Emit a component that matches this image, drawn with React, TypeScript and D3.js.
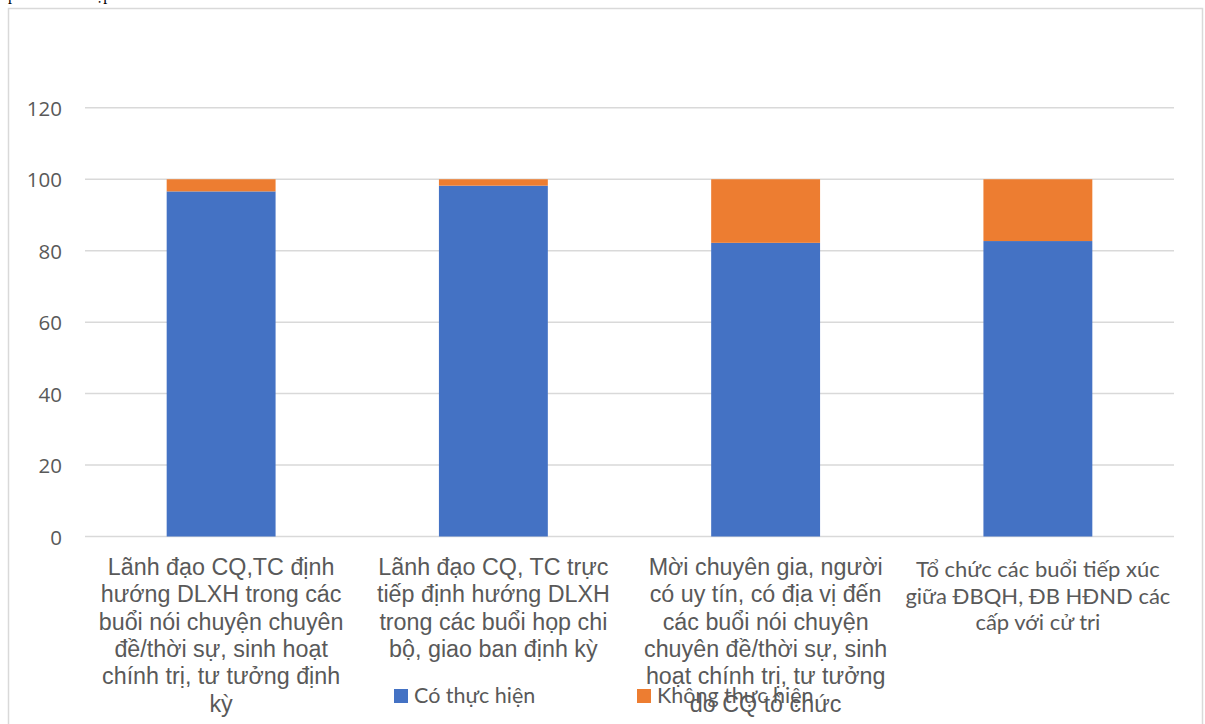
import * as d3 from "d3";

const WIDTH = 1205;
const HEIGHT = 724;

// plot area inside the chart frame
const PLOT = { left: 85, right: 1174, top: 107.8, bottom: 536.5 };

const categories = [
  "Lãnh đạo CQ,TC định hướng DLXH",
  "Lãnh đạo CQ, TC trực tiếp định hướng DLXH",
  "Mời chuyên gia, người có uy tín",
  "Tổ chức các buổi tiếp xúc cử tri",
];

// wrapped label lines, as shown under each bar
const categoryLines = [
  ["Lãnh đạo CQ,TC định", "hướng DLXH trong các", "buổi nói chuyện chuyên", "đề/thời sự, sinh hoạt", "chính trị, tư tưởng định", "kỳ"],
  ["Lãnh đạo CQ, TC trực", "tiếp định hướng DLXH", "trong các buổi họp chi", "bộ, giao ban định kỳ"],
  ["Mời chuyên gia, người", "có uy tín, có địa vị đến", "các buổi nói chuyện", "chuyên đề/thời sự, sinh", "hoạt chính trị, tư tưởng", "do CQ tổ chức"],
  ["Tổ chức các buổi tiếp xúc", "giữa ĐBQH, ĐB HĐND các", "cấp với cử tri"],
];

const coThucHien = [96.6, 98.2, 82.2, 82.7];
const khongThucHien = [3.4, 1.8, 17.8, 17.3];

const seriesNames = ["Có thực hiện", "Không thực hiện"];
const seriesColors = ["#4472C4", "#ED7D31"];

const yTicks = [0, 20, 40, 60, 80, 100, 120];

const TEXT = "#595959";
const GRID = "#d9d9d9";

export default function App() {
  const x = d3
    .scaleBand()
    .domain(categories)
    .range([PLOT.left, PLOT.right])
    .paddingInner(0.6)
    .paddingOuter(0.3);

  const y = d3.scaleLinear().domain([0, 120]).range([PLOT.bottom, PLOT.top]);

  const stacked = d3
    .stack<number>()
    .keys(["0", "1"])
    .value((i, key) => (key === "0" ? coThucHien[i] : khongThucHien[i]))(
    d3.range(categories.length)
  );

  return (
    <svg
      width={WIDTH}
      height={HEIGHT}
      style={{ position: "absolute", left: 0, top: 0 }}
    >
      {/* bit of document text cut off above the chart */}
      <text x={8} y={0} fontFamily="'Liberation Serif', 'Times New Roman', serif" fontSize={16} fill="#000">
        phần thứ hai tập
      </text>

      {/* chart frame */}
      <rect x={8.5} y={8.5} width={1194} height={740} fill="#fff" stroke={GRID} strokeWidth={1.5} />

      {/* grid + y labels */}
      {yTicks.map((t) => (
        <g key={t}>
          <line x1={PLOT.left} x2={PLOT.right} y1={y(t)} y2={y(t)} stroke={GRID} strokeWidth={1.5} />
          <text
            x={62}
            y={y(t)}
            textAnchor="end"
            dominantBaseline="central"
            fontFamily="'Open Sans', sans-serif"
            fontSize={20.5}
            fill={TEXT}
          >
            {t}
          </text>
        </g>
      ))}

      {/* stacked bars */}
      {stacked.map((layer, s) => (
        <g key={s} fill={seriesColors[s]}>
          {layer.map((d, i) => (
            <rect
              key={i}
              x={x(categories[i])}
              y={y(d[1])}
              width={x.bandwidth()}
              height={y(d[0]) - y(d[1])}
            />
          ))}
        </g>
      ))}

      {/* category labels */}
      {categoryLines.map((lines, i) => {
        const cx = (x(categories[i]) ?? 0) + x.bandwidth() / 2;
        const last = i === 3;
        return (
          <text
            key={i}
            textAnchor="middle"
            fontFamily={last ? "Lato, sans-serif" : "'Liberation Sans', Arial, sans-serif"}
            fontSize={last ? 22 : 23.3}
            fill={TEXT}
          >
            {lines.map((l, j) => (
              <tspan key={j} x={cx} y={(last ? 577 : 575) + j * (last ? 26.7 : 27.3)}>
                {l}
              </tspan>
            ))}
          </text>
        );
      })}

      {/* legend */}
      {seriesNames.map((name, s) => {
        const lx = s === 0 ? 394 : 637;
        return (
          <g key={name}>
            <rect x={lx} y={689} width={14} height={14} fill={seriesColors[s]} />
            <text x={lx + 20} y={703} fontFamily="Lato, sans-serif" fontSize={21.5} fill={TEXT}>
              {name}
            </text>
          </g>
        );
      })}
    </svg>
  );
}
